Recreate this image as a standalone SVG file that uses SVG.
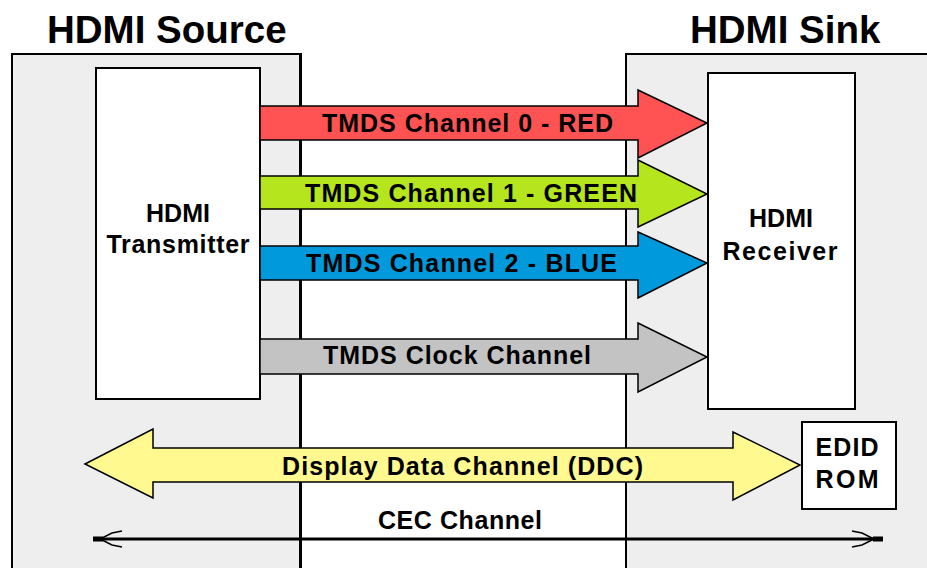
<svg xmlns="http://www.w3.org/2000/svg" width="927" height="568" viewBox="0 0 927 568">
<style>
.title{font-family:"Liberation Sans",Arial,sans-serif;font-weight:bold;font-size:38.5px;fill:#000}
.lbl{font-family:"Liberation Sans",Arial,sans-serif;font-weight:bold;font-size:25px;fill:#000;text-anchor:middle}
.box{fill:#fff;stroke:#000;stroke-width:2}
.arrow{stroke:#000;stroke-width:1.5;stroke-linejoin:miter}
.edge{stroke:#000;stroke-width:2;fill:none}
</style>
<rect width="927" height="568" fill="#fff"/>
<g id="source">
<rect x="12" y="54" width="288" height="520" fill="#eeeeee"/>
<path class="edge" d="M12 575 V54 H300"/>
<line x1="300.5" y1="53" x2="300.5" y2="568" stroke="#000" stroke-width="3"/>
<text class="title" x="47" y="43">HDMI Source</text>
</g>
<g id="sink">
<rect x="626" y="54" width="310" height="520" fill="#eeeeee"/>
<path class="edge" d="M626 575 V54 H930"/>
<text class="title" x="690" y="43">HDMI Sink</text>
</g>
<g id="transmitter">
<rect class="box" x="96" y="68" width="164" height="331"/>
<text class="lbl" x="178" y="222">HDMI</text>
<text class="lbl" x="178" y="253" textLength="143">Transmitter</text>
</g>
<g id="receiver">
<rect class="box" x="708" y="73" width="147" height="336"/>
<text class="lbl" x="781" y="227">HDMI</text>
<text class="lbl" x="780" y="260" textLength="115">Receiver</text>
</g>
<g id="edid">
<rect class="box" x="802" y="422" width="94" height="87"/>
<text class="lbl" x="847" y="456" textLength="63">EDID</text>
<text class="lbl" x="847" y="488" textLength="63">ROM</text>
</g>
<g id="connectors">
<g id="ch0">
<path class="arrow" d="M260 106 H638 V90 L707 123 L638 158 V140 H260 Z" fill="#ff5252"/>
<text class="lbl" x="467.5" y="131.5" textLength="291">TMDS Channel 0 - RED</text>
</g>
<g id="ch1">
<path class="arrow" d="M260 176 H638 V160 L707 194 L638 227 V209 H260 Z" fill="#b5e61d"/>
<text class="lbl" x="471" y="202" textLength="332">TMDS Channel 1 - GREEN</text>
</g>
<g id="ch2">
<path class="arrow" d="M260 246 H638 V232 L707 263 L638 298 V280 H260 Z" fill="#0099dc"/>
<text class="lbl" x="461.5" y="272" textLength="311">TMDS Channel 2 - BLUE</text>
</g>
<g id="clock">
<path class="arrow" d="M260 339 H638 V323 L707 357 L638 392 V374 H260 Z" fill="#c3c3c3"/>
<text class="lbl" x="457" y="364" textLength="268">TMDS Clock Channel</text>
</g>
<g id="ddc">
<path class="arrow" d="M85 464 L153 429 V448 H733 V432 L800 465 L733 500 V482 H153 V498 Z" fill="#fff98f"/>
<text class="lbl" x="462.5" y="475" textLength="361">Display Data Channel (DDC)</text>
</g>
<g id="cec">
<line x1="95" y1="539" x2="881" y2="539" stroke="#000" stroke-width="3"/>
<rect x="93" y="536.5" width="10" height="5" fill="#000"/>
<rect x="873" y="536.5" width="10" height="5" fill="#000"/>
<polyline points="122,531 112,533 100,539 112,545 122,547" fill="none" stroke="#000" stroke-width="1.5"/>
<polyline points="852,531 862,533 874,539 862,545 852,547" fill="none" stroke="#000" stroke-width="1.5"/>
<text class="lbl" x="460" y="529" textLength="164">CEC Channel</text>
</g>
</g>
</svg>
